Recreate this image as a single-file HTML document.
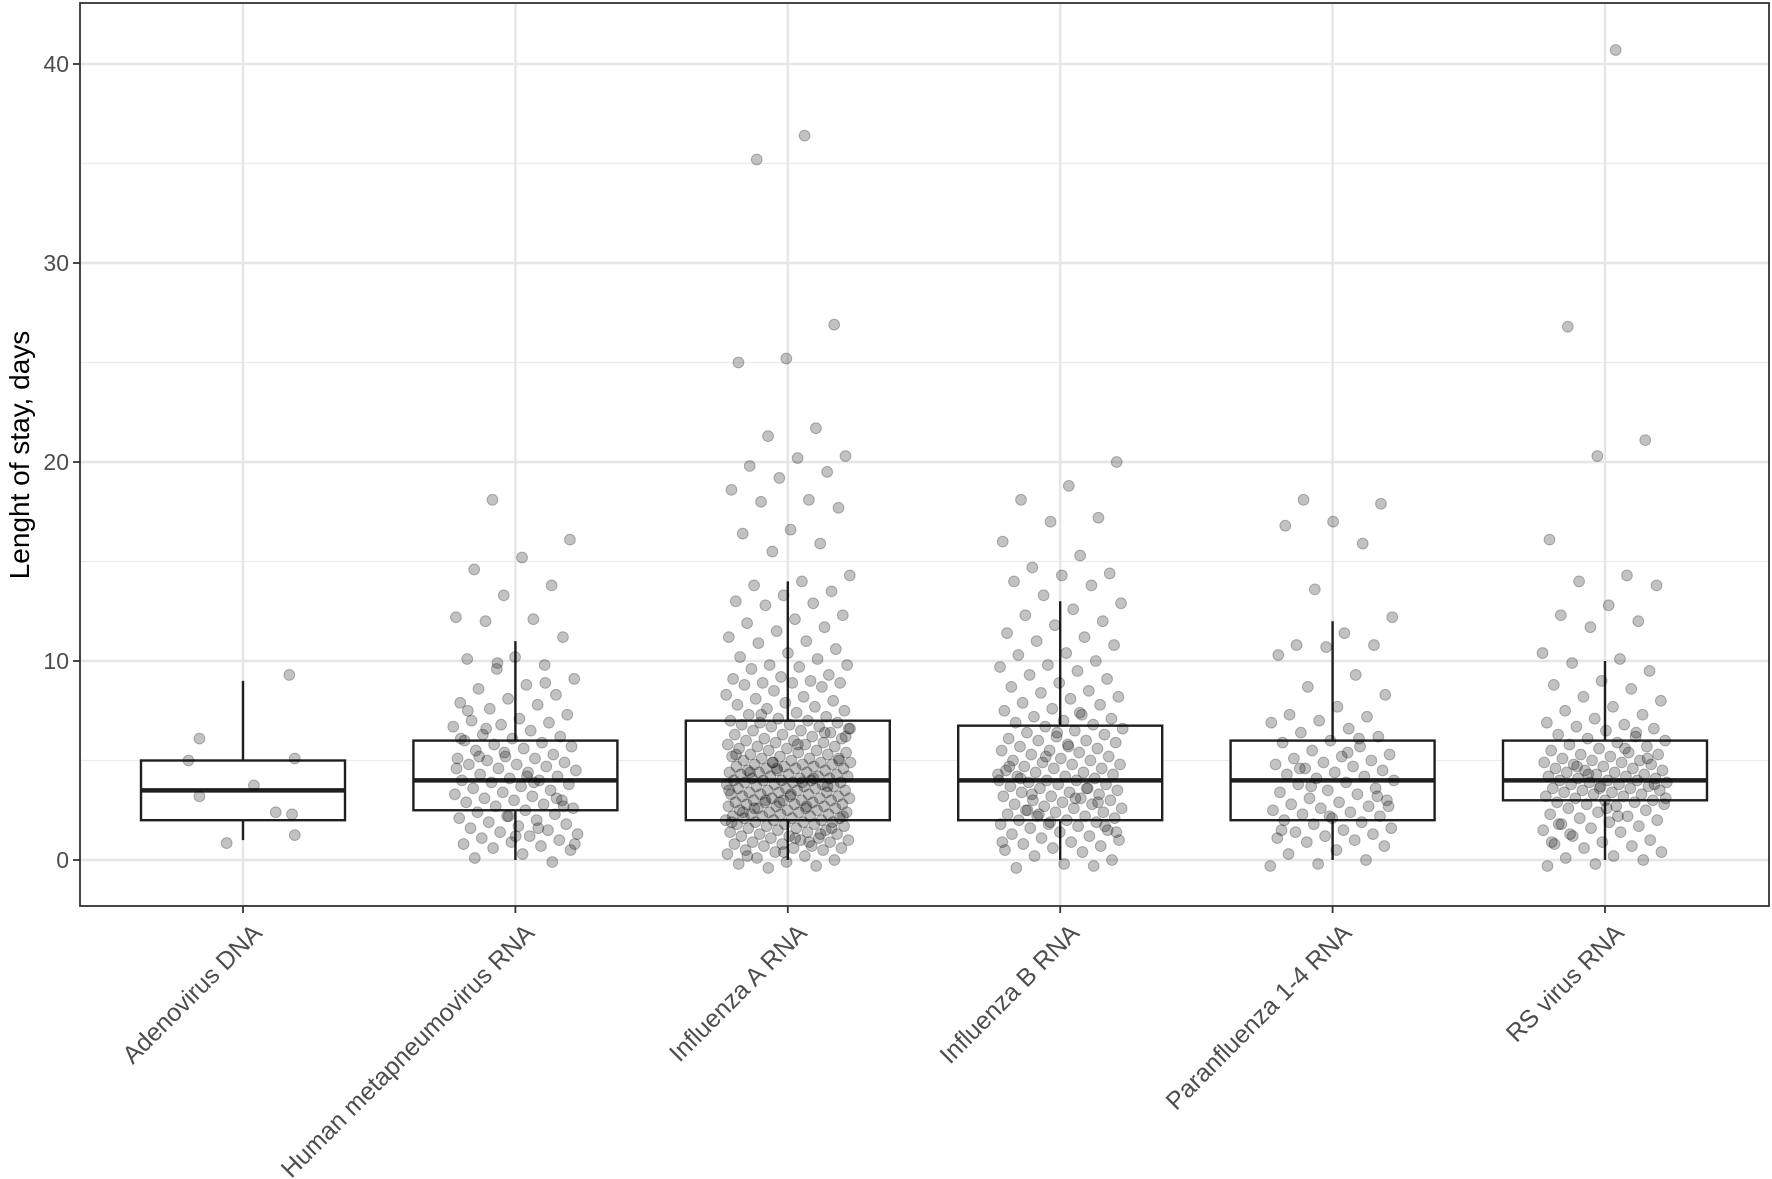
<!DOCTYPE html>
<html><head><meta charset="utf-8"><style>
body{margin:0;background:#fff}
svg{display:block;font-family:"Liberation Sans",sans-serif}
</style></head><body>
<svg id="chart" width="1772" height="1179" viewBox="0 0 1772 1179" xmlns="http://www.w3.org/2000/svg"></svg>
<script>
const categories = ["Adenovirus DNA","Human metapneumovirus RNA","Influenza A RNA","Influenza B RNA","Paranfluenza 1-4 RNA","RS virus RNA"];
const q1 = [2, 2.5, 2, 2, 2, 3];
const medians = [3.5, 4, 4, 4, 4, 4];
const q3 = [5, 6, 7, 6.75, 6, 6];
const whiskerLow = [1, 0, 0, 0, 0, 0];
const whiskerHigh = [9, 11, 14, 13, 12, 10];
const yTicks = [0, 10, 20, 30, 40];
const yMinor = [5, 15, 25, 35];
const adenoValues = [5.0, 6.1, 3.2, 0.85, 3.75, 2.4, 9.3, 5.1, 1.25, 2.3];
const adenoJitter = [-0.2, -0.16, -0.16, -0.06, 0.04, 0.12, 0.17, 0.19, 0.19, 0.18];
const hmpvValues = [18.1,16.1,15.2,14.6,13.8,13.3,12.2,12.1,12.0,11.2,10.2,10.1,9.8,9.6,9.1,8.8,8.6,8.3,8.1,7.9,7.8,7.6,7.3,7.1,7.0,6.9,6.8,6.7,6.5,6.3,6.2,6.1,6.0,5.9,5.8,5.7,5.6,5.5,5.3,5.2,5.1,5.1,5.0,4.9,4.8,4.8,4.7,4.6,4.5,4.4,4.3,4.2,4.1,4.0,4.0,3.9,3.8,3.7,3.6,3.5,3.4,3.3,3.2,3.1,3.0,3.0,2.9,2.8,2.7,2.6,2.5,2.4,2.3,2.2,2.1,2.0,1.9,1.8,1.7,1.6,1.5,1.4,1.3,1.2,1.1,1.0,0.9,0.8,0.7,0.6,0.5,0.3,0.1,-0.1,5.4,4.6,3.9,6.6,2.7,1.2,7.5,8.9,9.9,0.8,4.2,5.2,3.1,2.2,6.1,1.6];
const fluAValues = [36.4,35.2,26.9,25.2,25.0,21.7,21.3,20.3,20.2,19.8,19.5,19.2,18.6,18.1,18.0,17.7,16.6,16.4,15.9,15.5,14.3,14.0,13.8,13.5,13.3,13.0,12.9,12.8,12.3,12.1,11.9,11.7,11.5,11.2,11.0,10.9,10.6,10.4,10.2,10.1,9.8,9.8,9.7,9.6,9.3,9.2,9.1,9.0,8.9,8.9,8.9,8.8,8.7,8.5,8.3,8.2,8.1,8.0,7.9,7.8,7.7,7.6,7.5,7.4,7.3,7.2,7.1,7.0,7.0,6.9,6.9,6.8,6.8,6.7,6.7,6.6,6.5,6.5,6.4,6.3,6.3,6.2,6.1,6.1,6.0,6.0,5.9,5.9,5.8,5.8,5.7,5.7,5.6,5.6,5.5,5.5,5.4,5.4,5.3,5.3,5.2,5.2,5.1,5.1,5.0,5.0,5.0,4.9,4.9,4.9,4.8,4.8,4.8,4.7,4.7,4.7,4.6,4.6,4.6,4.5,4.5,4.5,4.4,4.4,4.4,4.3,4.3,4.3,4.2,4.2,4.2,4.1,4.1,4.1,4.0,4.0,4.0,4.0,3.9,3.9,3.9,3.8,3.8,3.8,3.7,3.7,3.7,3.6,3.6,3.6,3.5,3.5,3.5,3.4,3.4,3.4,3.3,3.3,3.3,3.2,3.2,3.2,3.1,3.1,3.1,3.0,3.0,3.0,3.0,2.9,2.9,2.9,2.8,2.8,2.8,2.7,2.7,2.7,2.6,2.6,2.6,2.5,2.5,2.5,2.4,2.4,2.4,2.3,2.3,2.3,2.2,2.2,2.2,2.1,2.1,2.1,2.0,2.0,2.0,1.9,1.9,1.9,1.8,1.8,1.8,1.7,1.7,1.6,1.6,1.5,1.5,1.4,1.4,1.3,1.3,1.2,1.2,1.1,1.1,1.0,1.0,0.9,0.9,0.8,0.8,0.7,0.7,0.6,0.6,0.5,0.5,0.4,0.3,0.2,0.1,0.0,-0.1,-0.2,-0.3,-0.4,6.2,5.8,4.4,3.7,2.9,1.9,0.9,7.3,5.1,3.3,2.4,1.3,4.9,6.6,3.9,2.6,1.6,0.4,5.3,4.1,3.0,2.2,1.1,0.2,6.4,4.6,3.5,2.7];
const fluBValues = [20.0,18.8,18.1,17.2,17.0,16.0,15.3,14.7,14.4,14.3,14.0,13.8,13.3,12.9,12.6,12.3,12.0,11.8,11.4,11.2,11.0,10.8,10.4,10.3,10.0,9.8,9.7,9.5,9.3,9.1,8.9,8.7,8.5,8.4,8.2,8.1,7.9,7.8,7.6,7.5,7.3,7.2,7.1,7.0,6.9,6.8,6.7,6.6,6.5,6.4,6.3,6.2,6.1,6.0,6.0,5.9,5.8,5.7,5.6,5.5,5.5,5.4,5.3,5.2,5.1,5.0,5.0,4.9,4.8,4.8,4.7,4.6,4.6,4.5,4.4,4.4,4.3,4.2,4.2,4.1,4.0,4.0,4.0,3.9,3.8,3.8,3.7,3.6,3.6,3.5,3.4,3.4,3.3,3.2,3.2,3.1,3.0,3.0,2.9,2.8,2.8,2.7,2.6,2.6,2.5,2.4,2.4,2.3,2.2,2.2,2.1,2.0,2.0,1.9,1.8,1.8,1.7,1.6,1.5,1.4,1.3,1.2,1.1,1.0,0.9,0.8,0.7,0.6,0.5,0.4,0.2,0.0,-0.2,-0.4,-0.3,5.2,4.3,3.1,2.5,1.7,6.4,4.7,3.6,2.3,1.4,5.7,4.1,2.9,1.9,0.9,7.4,3.3];
const paraValues = [18.1,17.9,17.0,16.8,15.9,13.6,12.2,11.4,10.8,10.8,10.7,10.3,9.3,8.7,8.3,7.7,7.3,7.2,7.0,6.9,6.6,6.4,6.2,6.0,5.9,5.7,5.5,5.3,5.2,5.1,5.0,4.9,4.8,4.7,4.6,4.5,4.4,4.3,4.2,4.1,4.0,3.9,3.8,3.6,3.5,3.4,3.3,3.1,3.0,2.9,2.8,2.7,2.6,2.5,2.4,2.3,2.2,2.1,2.0,1.9,1.8,1.6,1.5,1.4,1.3,1.2,1.1,1.0,0.9,0.7,0.5,0.3,0.0,-0.2,-0.3,5.4,4.6,3.2,2.2,1.5,6.1,3.7,2.7];
const rsValues = [40.7,26.8,21.1,20.3,16.1,14.3,14.0,13.8,12.8,12.3,12.0,11.7,10.4,10.1,9.9,9.5,9.0,8.8,8.6,8.2,8.0,7.7,7.5,7.3,7.1,6.9,6.8,6.7,6.6,6.5,6.3,6.2,6.1,6.0,5.9,5.8,5.7,5.6,5.5,5.4,5.3,5.3,5.2,5.1,5.0,5.0,4.9,4.9,4.8,4.8,4.7,4.6,4.6,4.5,4.5,4.4,4.4,4.3,4.3,4.2,4.2,4.1,4.1,4.0,4.0,4.0,3.9,3.9,3.8,3.8,3.7,3.7,3.6,3.6,3.5,3.5,3.4,3.4,3.3,3.3,3.2,3.2,3.1,3.0,3.0,2.9,2.9,2.8,2.8,2.7,2.6,2.5,2.4,2.3,2.2,2.1,2.0,1.9,1.8,1.7,1.6,1.5,1.4,1.2,1.0,0.9,0.8,0.7,0.6,0.4,0.2,0.1,0.0,-0.2,-0.3,5.6,4.7,3.8,2.6,1.8,6.4,4.3,3.1,2.2,1.3,5.1,3.6,0.9];
const pointValues = [adenoValues, hmpvValues, fluAValues, fluBValues, paraValues, rsValues];

const svg = document.getElementById('chart');
const NS = 'http://www.w3.org/2000/svg';
const L = 80, R = 1769, T = 3, B = 906;
const catX0 = 243, catStep = 272.4;
const xScale = i => catX0 + i * catStep;
const yScale = v => 860 - v * 19.9;
function mk(tag, attrs, parent) {
  const e = document.createElementNS(NS, tag);
  for (const k in attrs) e.setAttribute(k, attrs[k]);
  (parent || svg).appendChild(e);
  return e;
}
const grid = mk('g', {});


yMinor.forEach(v => {
  const l = mk('line', {x1: L, x2: R, y1: yScale(v), y2: yScale(v), stroke: '#ececec', 'stroke-width': 1.2}, grid);
  
  
});
yTicks.forEach(v => {
  const l = mk('line', {x1: L, x2: R, y1: yScale(v), y2: yScale(v), stroke: '#e6e6e6', 'stroke-width': 2.4}, grid);
  
  
});
categories.forEach((c, i) => {
  const l = mk('line', {x1: xScale(i), x2: xScale(i), y1: T, y2: B, stroke: '#e6e6e6', 'stroke-width': 2.4}, grid);
  
  
});
const halfW = 102;
categories.forEach((c, i) => {
  const g = mk('g', {});
  
  
  const x = xScale(i);
  mk('line', {x1: x, x2: x, y1: yScale(q3[i]), y2: yScale(whiskerHigh[i]), stroke: '#1f1f1f', 'stroke-width': 2.4}, g);
  mk('line', {x1: x, x2: x, y1: yScale(q1[i]), y2: yScale(whiskerLow[i]), stroke: '#1f1f1f', 'stroke-width': 2.4}, g);
  mk('rect', {x: x - halfW, y: yScale(q3[i]), width: 2 * halfW, height: yScale(q1[i]) - yScale(q3[i]), fill: '#fff', stroke: '#1f1f1f', 'stroke-width': 2.4}, g);
  mk('line', {x1: x - halfW, x2: x + halfW, y1: yScale(medians[i]), y2: yScale(medians[i]), stroke: '#1f1f1f', 'stroke-width': 4.5}, g);
});
pointValues.forEach((vals, i) => {
  const g = mk('g', {});
  
  
  vals.forEach((v, j) => {
    let off;
    if (i === 0) off = adenoJitter[j];
    else off = (((j * 0.6180339 + i * 0.317) % 1) - 0.5) * 0.46;
    const p = mk('circle', {cx: xScale(i) + off * catStep, cy: yScale(v), r: 5.4, fill: 'rgba(0,0,0,0.24)', stroke: 'rgba(0,0,0,0.26)', 'stroke-width': 1}, g);
    
    
  });
});
const border = mk('rect', {x: L, y: T, width: R - L, height: B - T, fill: 'none', stroke: '#333', 'stroke-width': 1.8});


yTicks.forEach(v => {
  mk('line', {x1: L - 7, x2: L, y1: yScale(v), y2: yScale(v), stroke: '#333', 'stroke-width': 1.8});
  const t = mk('text', {x: L - 11, y: yScale(v) + 8, 'text-anchor': 'end', 'font-size': 23, fill: '#4d4d4d'});
  t.textContent = v;
  
  
});
const yt = mk('text', {x: 0, y: 0, transform: 'translate(29,455) rotate(-90)', 'text-anchor': 'middle', 'font-size': 28, fill: '#000'});
yt.textContent = 'Lenght of stay, days';


categories.forEach((c, i) => {
  const x = xScale(i);
  mk('line', {x1: x, x2: x, y1: B, y2: B + 7, stroke: '#333', 'stroke-width': 1.8});
  const t = mk('text', {x: 0, y: 0, transform: `translate(${x + 8},${B + 16}) rotate(-45)`, 'text-anchor': 'end', 'font-size': 25, fill: '#4d4d4d', 'dominant-baseline': 'hanging'});
  t.textContent = c;
  
  
});
</script>
</body></html>
